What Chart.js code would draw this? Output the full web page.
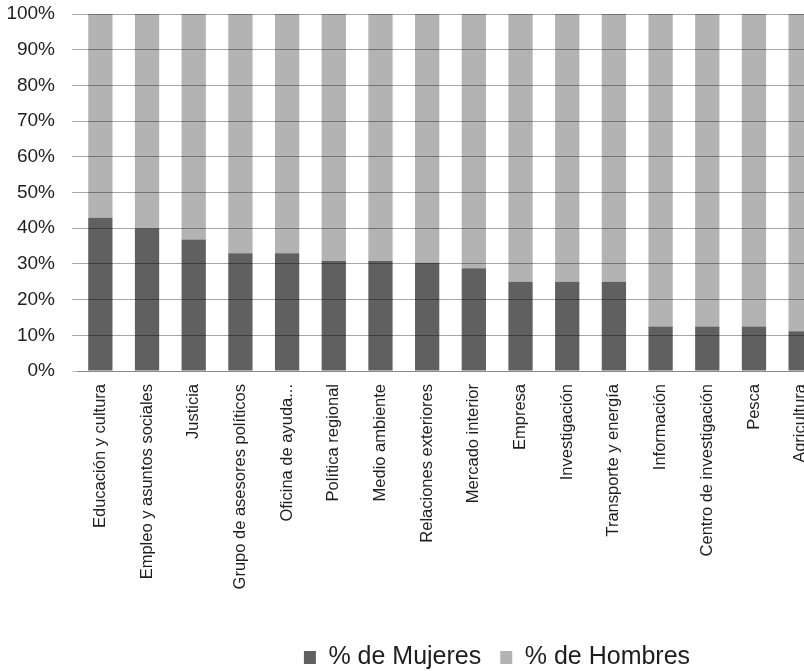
<!DOCTYPE html>
<html>
<head>
<meta charset="utf-8">
<script src="https://cdn.jsdelivr.net/npm/chart.js@4"></script>
<style>
  html, body { margin: 0; padding: 0; background: #fff; overflow: hidden; }
  #chart { display: block; }
</style>
</head>
<body>
<canvas id="chart" width="994" height="680"></canvas>
<script>
// ---------------- DATA ----------------
const categories = [
  "Educación y cultura", "Empleo y asuntos sociales", "Justicia",
  "Grupo de asesores políticos", "Oficina de ayuda...", "Política regional",
  "Medio ambiente", "Relaciones exteriores", "Mercado interior", "Empresa",
  "Investigación", "Transporte y energía", "Información",
  "Centro de investigación", "Pesca", "Agricultura"
];

// % de Mujeres (dark) and % de Hombres (light)
const mujeres = [42.9, 40.0, 36.8, 33.0, 33.0, 30.8, 30.8, 30.3, 28.8, 25.0, 25.0, 25.0, 12.5, 12.5, 12.5, 11.1];
const hombres = [57.1, 60.0, 63.2, 67.0, 67.0, 69.2, 69.2, 69.7, 71.2, 75.0, 75.0, 75.0, 87.5, 87.5, 87.5, 88.9];

const seriesNames = ["% de Mujeres", "% de Hombres"];
const yMin = 0, yMax = 100, yStep = 10;

const DARK = "#606060";
const LIGHT = "#b3b3b3";
const TEXT = "#1e1e1e";

Chart.defaults.font.family = "'Liberation Sans', Arial, sans-serif";

// ---------------- CHART ----------------
// canvas is a bit larger than the window: the original picture is cropped
const ctx = document.getElementById("chart").getContext("2d");
new Chart(ctx, {
  type: "bar",
  data: {
    labels: categories,
    datasets: [
      { label: seriesNames[0], data: mujeres, backgroundColor: DARK, barPercentage: 0.52, categoryPercentage: 1 },
      { label: seriesNames[1], data: hombres, backgroundColor: LIGHT, barPercentage: 0.52, categoryPercentage: 1 }
    ]
  },
  options: {
    responsive: false,
    animation: false,
    layout: { padding: { top: 14, left: 0, right: 0, bottom: 0 } },
    plugins: {
      tooltip: { enabled: false },
      legend: {
        position: "bottom",
        labels: { boxWidth: 12, boxHeight: 13, padding: 19, color: TEXT, font: { size: 25 } }
      }
    },
    scales: {
      x: {
        stacked: true,
        grid: { display: false, drawTicks: false },
        border: { color: "#b0b0b0" },
        ticks: { autoSkip: false, minRotation: 90, maxRotation: 90, padding: 13, color: TEXT, font: { size: 16.5 } },
        afterFit: s => { s.height = 255; }
      },
      y: {
        stacked: true,
        min: yMin,
        max: yMax,
        ticks: { stepSize: yStep, padding: 17, color: TEXT, font: { size: 19 }, callback: v => v + "%" },
        grid: { z: 1, tickLength: 5, color: c => c.tick.value === 0 ? "rgba(0,0,0,0.22)" : "rgba(0,0,0,0.35)" },
        border: { display: false },
        afterFit: s => { s.width = 77; s.paddingTop = 0; s.paddingBottom = 0; }
      },
      // empty right-hand strip: the original chart runs on past the window edge
      spacer: {
        type: "linear",
        position: "right",
        grid: { display: false },
        border: { display: false },
        ticks: { display: false },
        afterFit: s => { s.width = 170; }
      }
    }
  }
});
</script>
</body>
</html>
